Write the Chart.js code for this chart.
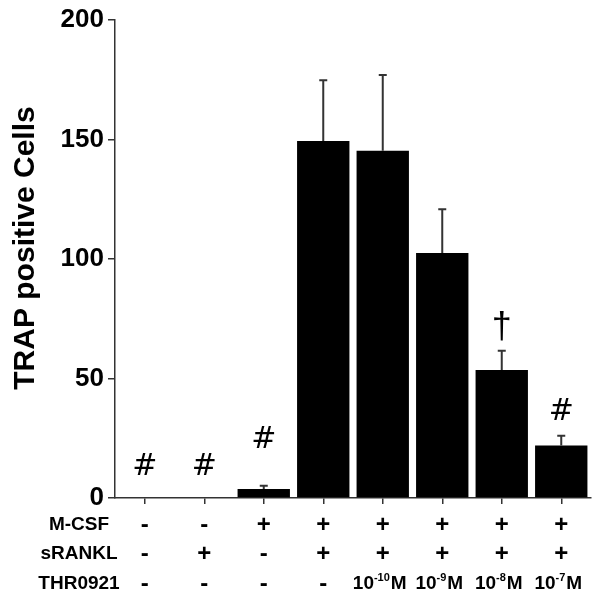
<!DOCTYPE html>
<html>
<head>
<meta charset="utf-8">
<script src="https://cdn.jsdelivr.net/npm/chart.js@4"></script>
<style>
html,body{margin:0;padding:0;background:#fff;}
#wrap{width:600px;height:603px;position:relative;}
</style>
</head>
<body>
<div id="wrap"><canvas id="c" width="600" height="603"></canvas></div>
<script>
// ---- data ----
const groups = ['Ctrl', 'sRANKL', 'M-CSF', 'M-CSF+sRANKL', 'THR 1e-10', 'THR 1e-9', 'THR 1e-8', 'THR 1e-7'];
const means = [0, 0, 3.8, 149.4, 145.3, 102.5, 53.6, 22];
const errors = [0, 0, 1.3, 25.4, 31.7, 18.3, 8, 4];
const marks = ['#', '#', '#', '', '', '', '†', '#'];
const markY = [13, 13, 24, 0, 0, 0, 71, 36];
const yTicks = [0, 50, 100, 150, 200];
const yTitle = 'TRAP positive Cells';
const rowLabels = ['M-CSF', 'sRANKL', 'THR0921'];
const mcsf = ['-', '-', '+', '+', '+', '+', '+', '+'];
const srankl = ['-', '+', '-', '+', '+', '+', '+', '+'];
const thrExp = [null, null, null, null, '-10', '-9', '-8', '-7'];

const FONT = '"Liberation Sans", Arial, sans-serif';

const errorBarPlugin = {
  id: 'errorBars',
  afterDatasetsDraw(chart) {
    const ctx = chart.ctx;
    const meta = chart.getDatasetMeta(0);
    const y = chart.scales.y;
    ctx.save();
    ctx.strokeStyle = '#333';
    ctx.lineWidth = 2;
    meta.data.forEach((bar, i) => {
      if (!errors[i]) return;
      const x = bar.x;
      const y0 = y.getPixelForValue(means[i]);
      const y1 = y.getPixelForValue(means[i] + errors[i]);
      ctx.beginPath();
      ctx.moveTo(x, y0);
      ctx.lineTo(x, y1);
      ctx.moveTo(x - 4, y1);
      ctx.lineTo(x + 4, y1);
      ctx.stroke();
    });
    // significance marks
    ctx.fillStyle = '#000';
    ctx.textAlign = 'center';
    ctx.textBaseline = 'middle';
    meta.data.forEach((bar, i) => {
      if (!marks[i]) return;
      ctx.font = marks[i] === '†' ? '36px ' + FONT : '30px "DejaVu Sans", sans-serif';
      ctx.fillText(marks[i], bar.x, y.getPixelForValue(markY[i]));
    });
    ctx.restore();
  }
};

const tablePlugin = {
  id: 'condTable',
  afterDraw(chart) {
    const ctx = chart.ctx;
    const x = chart.scales.x;
    const area = chart.chartArea;
    const bottom = area.bottom;
    const rowsY = [bottom + 27, bottom + 56, bottom + 86];
    ctx.save();
    ctx.fillStyle = '#000';
    // y-axis title
    ctx.save();
    ctx.translate(26, (area.top + area.bottom) / 2 - 11);
    ctx.rotate(-Math.PI / 2);
    ctx.textAlign = 'center';
    ctx.textBaseline = 'middle';
    ctx.font = 'bold 30px ' + FONT;
    ctx.fillText(yTitle, 0, 0);
    ctx.restore();

    ctx.textBaseline = 'middle';
    ctx.font = 'bold 19px ' + FONT;
    ctx.textAlign = 'center';
    rowLabels.forEach((t, r) => ctx.fillText(t, 79, rowsY[r]));
    const sym = (s, cx, cy) => {
      ctx.textAlign = 'center';
      ctx.font = 'bold 24px ' + FONT;
      ctx.fillText(s, cx, cy);
    };
    groups.forEach((g, i) => {
      const cx = x.getPixelForValue(i);
      sym(mcsf[i], cx, rowsY[0]);
      sym(srankl[i], cx, rowsY[1]);
      if (thrExp[i] === null) {
        sym('-', cx, rowsY[2]);
      } else {
        const bigF = 'bold 19px ' + FONT;
        const supF = 'bold 11px ' + FONT;
        ctx.font = bigF; const w10 = ctx.measureText('10').width; const wM = ctx.measureText('M').width;
        ctx.font = supF; const wS = ctx.measureText(thrExp[i]).width;
        const total = w10 + wS + wM + 1;
        let sx = cx - 3 - total / 2;
        ctx.textAlign = 'left';
        ctx.font = bigF; ctx.fillText('10', sx, rowsY[2]); sx += w10;
        ctx.font = supF; ctx.fillText(thrExp[i], sx, rowsY[2] - 6); sx += wS + 1;
        ctx.font = bigF; ctx.fillText('M', sx, rowsY[2]);
      }
    });
    ctx.restore();
  }
};

new Chart(document.getElementById('c'), {
  type: 'bar',
  data: {
    labels: groups,
    datasets: [{
      data: means,
      backgroundColor: '#000',
      borderWidth: 0,
      barPercentage: 0.88,
      categoryPercentage: 1.0
    }]
  },
  options: {
    responsive: false,
    animation: false,
    layout: { padding: { top: 20, right: 9, left: 0, bottom: 0 } },
    plugins: { legend: { display: false }, tooltip: { enabled: false } },
    scales: {
      x: {
        offset: true,
        grid: { display: true, drawOnChartArea: false, offset: false, tickLength: 6, color: '#333', lineWidth: 1.5 },
        border: { display: true, color: '#333', width: 1.5 },
        ticks: { display: false },
        afterFit: s => { s.height = 105; }
      },
      y: {
        min: 0, max: 200,
        afterBuildTicks: s => { s.ticks = yTicks.map(v => ({ value: v })); },
        grid: { display: true, drawOnChartArea: false, tickLength: 7, color: '#333', lineWidth: 1.5 },
        border: { display: true, color: '#333', width: 1.5 },
        ticks: { color: '#000', font: { family: FONT, size: 26, weight: 'bold' }, padding: 4 },
        afterFit: s => { s.width = 115; }
      }
    }
  },
  plugins: [errorBarPlugin, tablePlugin]
});
</script>
</body>
</html>
